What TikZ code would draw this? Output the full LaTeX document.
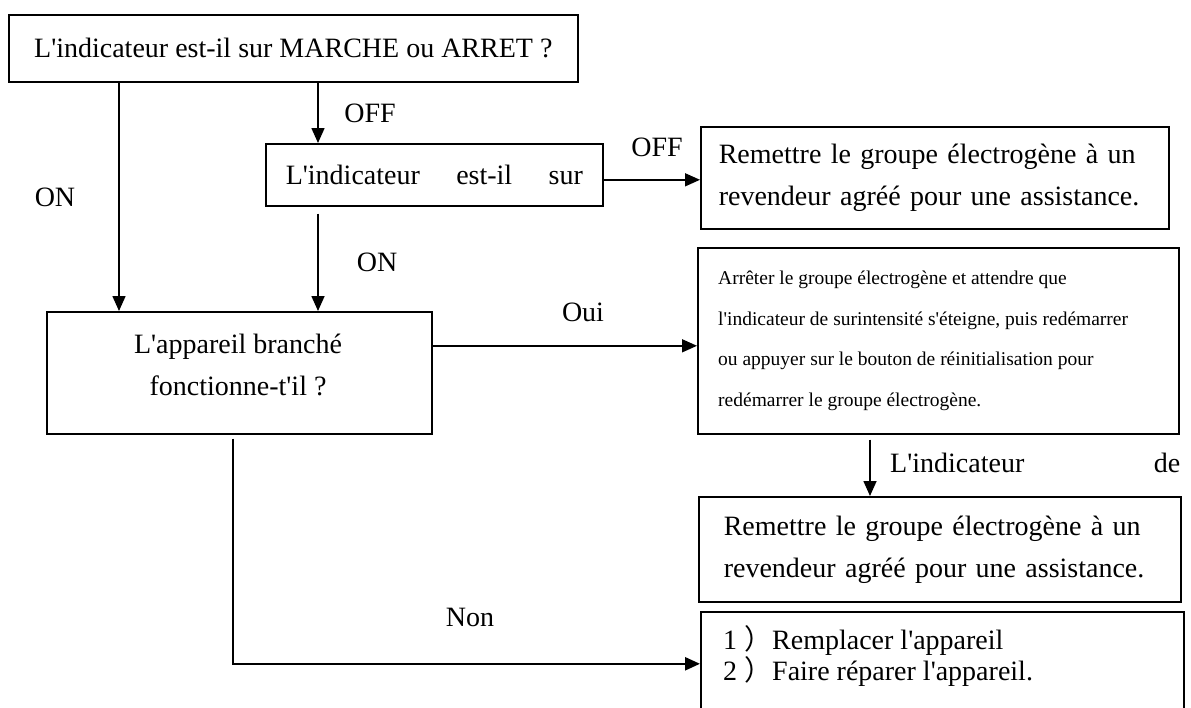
\documentclass[tikz,border=0pt]{standalone}
\usepackage{fontspec}
\setmainfont{Liberation Serif}
\newfontfamily\tms{Liberation Serif}
\newfontfamily\cjk{Noto Sans CJK SC}
\usetikzlibrary{arrows.meta}
\begin{document}
\begin{tikzpicture}[x=1pt,y=-1pt,
  box/.style={draw, line width=1.6pt, anchor=north west, inner sep=0pt, font=\tms\fontsize{28}{42}\selectfont},
  lbl/.style={inner sep=0pt, font=\tms\fontsize{28}{34}\selectfont},
  arr/.style={line width=1.6pt, -{Triangle[length=15pt,width=13pt]}},
]
\useasboundingbox (0,0) rectangle (1191,707);
\clip (0,0) rectangle (1191,707);

% boxes
\node[box, minimum width=569pt, minimum height=67pt] (top) at (8,14) {L'indicateur est-il sur MARCHE ou ARRET ?};
\node[box, minimum width=337pt, minimum height=62pt] (b2) at (265,143) {\makebox[297pt][s]{L'indicateur est-il sur}};
\node[box, minimum width=385pt, minimum height=122pt] (b3) at (46,311) {};
\node[lbl, align=center, font=\tms\fontsize{28}{42}\selectfont] (b3t) at (238,365) {L'appareil branché\\fonctionne-t'il ?};
\node[box, minimum width=468pt, minimum height=102pt, text width=432pt, align=left] (r1) at (700,126) {\makebox[\linewidth][s]{Remettre le groupe électrogène à un}\\\makebox[\linewidth][s]{revendeur agréé pour une assistance.}};
\node[box, minimum width=481pt, minimum height=186pt] (r2) at (697,247) {};
\node[lbl, anchor=north west, align=left, font=\tms\fontsize{19.5}{40.5}\selectfont] (r2t) at (718,271) {Arrêter le groupe électrogène et attendre que\\l'indicateur de surintensité s'éteigne, puis redémarrer\\ou appuyer sur le bouton de réinitialisation pour\\redémarrer le groupe électrogène.};
\node[box, minimum width=482pt, minimum height=105pt, text width=432pt, align=left] (r4) at (698,496) {Remettre le groupe électrogène à un\\revendeur agréé pour une assistance.};
\node[box, minimum width=483pt, minimum height=104pt] (r5) at (700,611) {};
\node[lbl, anchor=north west, align=left, font=\tms\fontsize{28}{31}\selectfont] (r5t) at (723,625) {1 {\cjk ）}Remplacer l'appareil\\2 {\cjk ）}Faire réparer l'appareil.};

% labels
\node[lbl] (lon1) at (55,197) {ON};
\node[lbl] (loff1) at (370,113) {OFF};
\node[lbl] (loff2) at (657,147) {OFF};
\node[lbl] (lon2) at (377,262) {ON};
\node[lbl] (loui) at (583,312) {Oui};
\node[lbl] (lnon) at (470,617) {Non};
\node[lbl, anchor=west] (lind) at (890,463) {\makebox[290pt][s]{L'indicateur de}};

% connectors
\draw[arr] ([xshift=111pt]top.south west) -- ([xshift=73pt]b3.north west);
\draw[arr] ([xshift=310pt]top.south west) -- ([xshift=53pt]b2.north west);
\draw[arr] ([xshift=53pt,yshift=-7pt]b2.south west) -- ([xshift=272pt]b3.north west);
\draw[arr] ([yshift=-5pt]b2.east) -- ([yshift=-5pt]b2.east -| r1.west);
\draw[arr] ([yshift=27pt]b3.east) -- ([yshift=27pt]b3.east -| r2.west);
\draw[arr] ([xshift=173pt,yshift=-5pt]r2.south west) -- ([xshift=172pt]r4.north west);
\draw[arr, line width=2.4pt] ([xshift=187pt,yshift=-4pt]b3.south west) |- (r5.west);
\end{tikzpicture}
\end{document}
